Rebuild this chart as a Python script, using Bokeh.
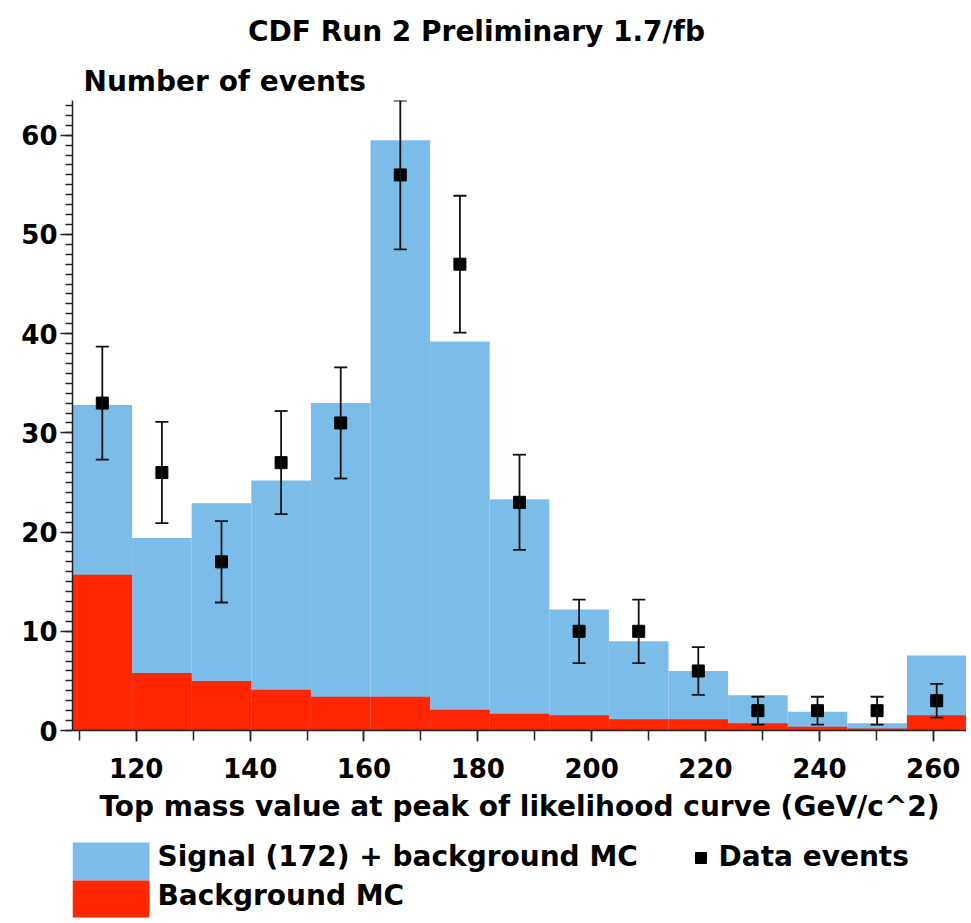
from bokeh.plotting import figure
from bokeh.models import ColumnDataSource, Range1d, FixedTicker, Whisker, TeeHead
from bokeh.layouts import column
from bokeh.core.properties import value
from bokeh.embed import file_html
from bokeh.resources import INLINE

# ---------------- data ----------------
bin_edges = [108.8, 119.27, 129.74, 140.21, 150.68, 161.15, 171.62, 182.09,
             192.56, 203.03, 213.5, 223.97, 234.44, 244.91, 255.38, 265.85]
signal_plus_bkg = [32.8, 19.4, 22.9, 25.2, 33.0, 59.5, 39.2, 23.3,
                   12.2, 9.0, 6.0, 3.55, 1.9, 0.73, 7.55]
background = [15.7, 5.8, 5.0, 4.1, 3.4, 3.4, 2.1, 1.7,
              1.54, 1.14, 1.14, 0.73, 0.37, 0.2, 1.54]
data_events = [33, 26, 17, 27, 31, 56, 47, 23, 10, 10, 6, 2, 2, 2, 3]
data_errors = [5.7, 5.1, 4.1, 5.2, 5.6, 7.5, 6.9, 4.8, 3.2, 3.2, 2.4, 1.4, 1.4, 1.4, 1.7]
x_ticks = [120, 140, 160, 180, 200, 220, 240, 260]
x_minor_ticks = [110, 120, 130, 140, 150, 160, 170, 180, 190, 200, 210, 220, 230, 240, 250, 260]
y_ticks = [0, 10, 20, 30, 40, 50, 60]
y_minor_ticks = list(range(0, 64))

title_text = "CDF Run 2 Preliminary 1.7/fb"
y_title = "Number of events"
x_title = "Top mass value at peak of likelihood curve (GeV/c^2)"
legend_labels = ["Signal (172) + background MC", "Background MC", "Data events"]

BLUE = "#7BBCE9"
RED = "#FF2600"
FONT = "DejaVu Sans"
W = 966
LEFT = 72


def blank(height, yr):
    f = figure(width=W, height=height, output_backend="svg", toolbar_location=None,
               x_range=Range1d(LEFT, W), y_range=yr,
               min_border_left=LEFT, min_border_right=0, min_border_top=0, min_border_bottom=0,
               x_axis_location=None, y_axis_location=None)
    f.outline_line_color = None
    f.xgrid.visible = False
    f.ygrid.visible = False
    return f


# ---------------- header (title + y title) ----------------
hd = blank(96, Range1d(96, 0))
hd.text(x=[476], y=[31], text=[title_text], text_font=value(FONT), text_font_style="bold",
        text_font_size="28px", text_align="center", text_baseline="middle", text_color="black")
hd.text(x=[83], y=[80.5], text=[y_title], text_font=value(FONT), text_font_style="bold",
        text_font_size="28px", text_align="left", text_baseline="middle", text_color="black")

# ---------------- main histogram ----------------
lefts = bin_edges[:-1]
rights = bin_edges[1:]
centers = [(a + b) / 2 for a, b in zip(lefts, rights)]

src = ColumnDataSource(dict(
    left=lefts, right=rights, total=signal_plus_bkg, bkg=background,
    x=centers, y=data_events,
    upper=[v + e for v, e in zip(data_events, data_errors)],
    lower=[v - e for v, e in zip(data_events, data_errors)],
))

p = figure(width=W, height=734, output_backend="svg", toolbar_location=None,
           x_range=Range1d(bin_edges[0], bin_edges[-1]), y_range=Range1d(0, 63.5),
           min_border_left=LEFT, min_border_right=0, min_border_top=4, min_border_bottom=100)
p.outline_line_color = None
p.xgrid.visible = False
p.ygrid.visible = False

p.quad(left="left", right="right", bottom=0, top="total", source=src,
       fill_color=BLUE, line_color=None)
p.quad(left="left", right="right", bottom=0, top="bkg", source=src,
       fill_color=RED, line_color=None)
p.scatter(x="x", y="y", source=src, marker="square", size=12,
          fill_color="black", line_color="black")
wh = Whisker(base="x", upper="upper", lower="lower", source=src, dimension="height",
             line_color="#111111", line_width=1.8, level="annotation",
             upper_head=TeeHead(size=13, line_color="#111111", line_width=1.8),
             lower_head=TeeHead(size=13, line_color="#111111", line_width=1.8))
p.add_layout(wh)

xa = p.xaxis[0]
xa.ticker = FixedTicker(ticks=x_ticks, minor_ticks=x_minor_ticks)
xa.major_tick_out = 11
xa.major_tick_in = 0
xa.minor_tick_out = 10
xa.minor_tick_in = 0
xa.major_label_standoff = 16
xa.major_label_text_font = FONT
xa.major_label_text_font_style = "bold"
xa.major_label_text_font_size = "26px"
xa.major_label_text_color = "black"
xa.axis_label = x_title
xa.axis_label_text_font = FONT
xa.axis_label_text_font_style = "bold"
xa.axis_label_text_font_size = "28px"
xa.axis_label_text_color = "black"
xa.axis_label_standoff = 9
xa.axis_line_color = "#222222"
xa.axis_line_width = 1.5
xa.major_tick_line_color = "#222222"
xa.minor_tick_line_color = "#222222"
xa.major_tick_line_width = 1.5
xa.minor_tick_line_width = 1.5

ya = p.yaxis[0]
ya.ticker = FixedTicker(ticks=y_ticks, minor_ticks=y_minor_ticks)
ya.major_tick_out = 12
ya.major_tick_in = 0
ya.minor_tick_out = 7
ya.minor_tick_in = 0
ya.major_label_standoff = 3
ya.major_label_text_font = FONT
ya.major_label_text_font_style = "bold"
ya.major_label_text_font_size = "26px"
ya.major_label_text_color = "black"
ya.axis_line_color = "#222222"
ya.axis_line_width = 1.5
ya.major_tick_line_color = "#222222"
ya.minor_tick_line_color = "#222222"
ya.major_tick_line_width = 1.5
ya.minor_tick_line_width = 1.5

# ---------------- legend panel ----------------
lg = blank(90, Range1d(920, 830))
lg.quad(left=[72], right=[149], top=[842], bottom=[880], fill_color=BLUE, line_color=None)
lg.quad(left=[72], right=[149], top=[880], bottom=[917], fill_color=RED, line_color=None)
lg.scatter(x=[700.5], y=[857.5], marker="square", size=11, fill_color="black", line_color="black")
lg.text(x=[157, 157, 718], y=[856, 894.5, 856], text=legend_labels,
        text_font=value(FONT), text_font_style="bold", text_font_size="28px",
        text_baseline="middle", text_align="left", text_color="black")

layout = column(hd, p, lg, spacing=0)
open("out.html", "w").write(file_html(layout, INLINE))
